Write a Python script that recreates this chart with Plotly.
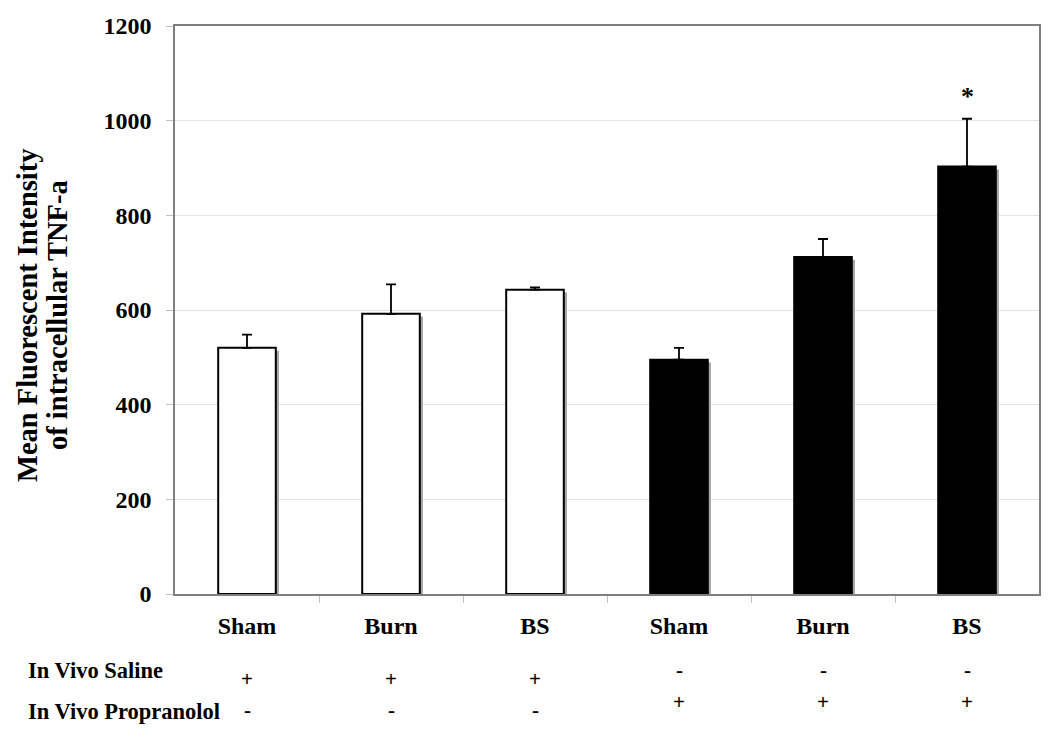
import plotly.graph_objects as go

groups = ["Sham", "Burn", "BS", "Sham", "Burn", "BS"]
means = [520, 592, 643, 495, 712, 903]
sems = [28, 62, 5, 25, 38, 101]
saline = ["+", "+", "+", "-", "-", "-"]
propranolol = ["-", "-", "-", "+", "+", "+"]
fills = ["white", "white", "white", "black", "black", "black"]
y_ticks = [0, 200, 400, 600, 800, 1000, 1200]
row_labels = ["In Vivo Saline", "In Vivo Propranolol"]
y_title_lines = ["Mean Fluorescent Intensity", "of intracellular TNF-a"]

FONT = "Liberation Serif, Times New Roman, serif"
x = list(range(len(groups)))

# plot area in pixels
L, R, T, B = 175, 1039, 26, 594
W, H = 1050, 739

fig = go.Figure()
# drop shadow
fig.add_trace(go.Bar(
    x=x, y=[m - 6 for m in means], width=0.4, offset=-0.2 + 0.022,
    marker=dict(color="#a6a6a6", line=dict(width=0)), hoverinfo="skip",
    showlegend=False))
# main bars
fig.add_trace(go.Bar(
    x=x, y=means, width=0.4, offset=-0.2,
    marker=dict(color=fills, line=dict(color="black", width=2)),
    error_y=dict(type="data", symmetric=False, array=sems,
                 arrayminus=[0] * len(sems), color="black",
                 thickness=1.8, width=5),
    showlegend=False))

fig.add_annotation(x=5, y=1052, xref="x", yref="y", text="*", showarrow=False,
                   font=dict(family=FONT, size=26, color="black", weight="bold"))


def py(pix):
    return (B - pix) / (B - T)


def px(pix):
    return (pix - L) / (R - L)


title_font = dict(family=FONT, size=28.5, color="black", weight="bold")
for line, cx in zip(y_title_lines, [27, 57]):
    fig.add_annotation(x=px(cx), y=py(315), xref="paper", yref="paper", text=line,
                       textangle=-90, showarrow=False, xanchor="center",
                       yanchor="middle", font=title_font)

ann_font = dict(family=FONT, size=22.5, color="black", weight="bold")
sign_font = dict(family=FONT, size=21, color="black", weight="bold")
fig.add_annotation(x=px(26), y=py(670), xref="paper", yref="paper", text=row_labels[0],
                   showarrow=False, xanchor="left", yanchor="middle", font=ann_font)
fig.add_annotation(x=px(26), y=py(711), xref="paper", yref="paper", text=row_labels[1],
                   showarrow=False, xanchor="left", yanchor="middle", font=ann_font)
for i, (s, p) in enumerate(zip(saline, propranolol)):
    fig.add_annotation(x=i, y=py(679 if s == "+" else 670), xref="x", yref="paper",
                       text=s, showarrow=False, yanchor="middle", font=sign_font)
    fig.add_annotation(x=i, y=py(702 if p == "+" else 710), xref="x", yref="paper",
                       text=p, showarrow=False, yanchor="middle", font=sign_font)

fig.update_layout(
    width=W, height=H,
    margin=dict(l=L, r=W - R, t=T, b=H - B),
    paper_bgcolor="white", plot_bgcolor="white",
    barmode="overlay",
    font=dict(family=FONT, color="black"),
    xaxis=dict(range=[-0.5, 5.5], tickvals=x, ticktext=groups, ticks="",
               tickfont=dict(family=FONT, size=24, color="black", weight="bold"),
               ticklabelstandoff=9,
               showgrid=False, zeroline=False, automargin=False,
               showline=True, linecolor="#7f7f7f", linewidth=1.5, mirror=True,
               minor=dict(tickvals=[i + 0.5 for i in x[:-1]], ticks="outside",
                          ticklen=7, tickcolor="#bfbfbf", showgrid=False),
               fixedrange=True),
    yaxis=dict(range=[0, 1200], tickvals=y_ticks, ticks="outside", ticklen=7,
               tickcolor="#bfbfbf", ticklabelstandoff=10,
               tickfont=dict(family=FONT, size=24, color="black", weight="bold"),
               showgrid=True, gridcolor="#e3e3e3", gridwidth=1, zeroline=False,
               showline=True, linecolor="#7f7f7f", linewidth=1.5, mirror=True,
               automargin=False, fixedrange=True),
)

fig.write_html("out.html", config={"displayModeBar": False},
               post_script="document.body.style.margin='0px';document.body.style.overflow='hidden';")
